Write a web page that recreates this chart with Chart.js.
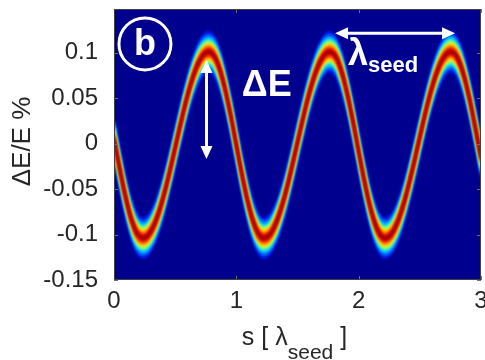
<!DOCTYPE html>
<html>
<head>
<meta charset="utf-8">
<script src="https://cdn.jsdelivr.net/npm/chart.js"></script>
<style>
  html, body { margin: 0; padding: 0; background: #fff; }
  #wrap { width: 485px; height: 360px; }
</style>
</head>
<body>
<div id="wrap"><canvas id="c"></canvas></div>
<script>
// s in units of lambda_seed
const sPos = [0, 0.05, 0.1, 0.15, 0.2, 0.25, 0.3, 0.35, 0.4, 0.45, 0.5, 0.55, 0.6, 0.65, 0.7, 0.75,
  0.8, 0.85, 0.9, 0.95, 1, 1.05, 1.1, 1.15, 1.2, 1.25, 1.3, 1.35, 1.4, 1.45, 1.5, 1.55, 1.6, 1.65,
  1.7, 1.75, 1.8, 1.85, 1.9, 1.95, 2, 2.05, 2.1, 2.15, 2.2, 2.25, 2.3, 2.35, 2.4, 2.45, 2.5, 2.55,
  2.6, 2.65, 2.7, 2.75, 2.8, 2.85, 2.9, 2.95, 3];

// centre of the energy band, dE/E in %
const bandCentre = [0.0057, -0.0297, -0.0617, -0.0865, -0.101, -0.1036, -0.0967, -0.0819, -0.0603,
  -0.0337, -0.0045, 0.025, 0.0524, 0.075, 0.0914, 0.0999, 0.0994, 0.0873, 0.0644, 0.0336, -0.0015,
  -0.0366, -0.0674, -0.0903, -0.1024, -0.1029, -0.0944, -0.078, -0.0554, -0.028, 0.0015, 0.0307,
  0.0573, 0.0789, 0.0937, 0.1006, 0.098, 0.0835, 0.0587, 0.0268, -0.0087, -0.0432, -0.0727, -0.0936,
  -0.1034, -0.1019, -0.0918, -0.074, -0.0501, -0.0223, 0.0074, 0.0364, 0.0621, 0.0825, 0.0958,
  0.101, 0.096, 0.0793, 0.0528, 0.0198, -0.0158];

// half width of each colour layer around the centre (outer -> inner)
const layerHalfWidth = [0.022, 0.0185, 0.015, 0.012, 0.0092, 0.0063, 0.0037, 0.0013];
const layerColour = ['#0018e8', '#0070ff', '#00d8ff', '#80ff80', '#ffe000', '#ff7000', '#ee1000', '#a00000'];

const xTicks = [0, 1, 2, 3];
const yTicks = [-0.15, -0.1, -0.05, 0, 0.05, 0.1];

const datasets = [];
layerHalfWidth.forEach((hw, i) => {
  const ord = layerHalfWidth.length - i;
  datasets.push({
    data: sPos.map((s, k) => ({ x: s, y: bandCentre[k] + hw })),
    borderColor: layerColour[i],
    backgroundColor: layerColour[i],
    borderWidth: 1.5,
    fill: '+1',
    order: ord
  });
  datasets.push({
    data: sPos.map((s, k) => ({ x: s, y: bandCentre[k] - hw })),
    borderColor: layerColour[i],
    borderWidth: 1.5,
    fill: false,
    order: ord
  });
});

function arrowHead(ctx, x, y, dx, dy, len, half) {
  // dx,dy = unit direction the head points to
  ctx.beginPath();
  ctx.moveTo(x, y);
  ctx.lineTo(x - dx * len - dy * half, y - dy * len + dx * half);
  ctx.lineTo(x - dx * len + dy * half, y - dy * len - dx * half);
  ctx.closePath();
  ctx.fill();
}

const decor = {
  id: 'decor',
  beforeDraw(chart) {
    const { ctx, chartArea: a } = chart;
    ctx.save();
    ctx.fillStyle = '#00008f';
    ctx.fillRect(a.left, a.top, a.right - a.left, a.bottom - a.top);
    ctx.restore();
  },
  beforeDatasetsDraw(chart) {
    chart.ctx.save();
    chart.ctx.filter = 'blur(1.2px)';
  },
  afterDatasetsDraw(chart) {
    const ctx = chart.ctx;
    ctx.restore();
    const a = chart.chartArea;
    const xs = chart.scales.x, ys = chart.scales.y;

    // inner tick marks
    ctx.save();
    ctx.strokeStyle = '#707070';
    ctx.lineWidth = 1;
    xTicks.forEach(v => {
      const px = Math.round(xs.getPixelForValue(v)) + 0.5;
      ctx.beginPath();
      ctx.moveTo(px, a.bottom); ctx.lineTo(px, a.bottom - 4);
      ctx.moveTo(px, a.top); ctx.lineTo(px, a.top + 4);
      ctx.stroke();
    });
    yTicks.forEach(v => {
      const py = Math.round(ys.getPixelForValue(v)) + 0.5;
      ctx.beginPath();
      ctx.moveTo(a.left, py); ctx.lineTo(a.left + 4, py);
      ctx.moveTo(a.right, py); ctx.lineTo(a.right - 4, py);
      ctx.stroke();
    });
    // box
    ctx.strokeStyle = '#404040';
    ctx.strokeRect(a.left + 0.5, a.top + 0.5, a.right - a.left - 1, a.bottom - a.top - 1);

    // annotations
    ctx.strokeStyle = '#fff';
    ctx.fillStyle = '#fff';
    ctx.lineWidth = 3;
    // circled b
    const cx = xs.getPixelForValue(0.253), cy = ys.getPixelForValue(0.1096);
    ctx.beginPath();
    ctx.arc(cx, cy, 26, 0, Math.PI * 2);
    ctx.stroke();
    ctx.font = 'bold 36px "Liberation Sans", Arial, sans-serif';
    ctx.textAlign = 'center';
    ctx.textBaseline = 'middle';
    ctx.fillText('b', cx, cy + 1);

    // dE arrow
    const ax = xs.getPixelForValue(0.756);
    const aTop = ys.getPixelForValue(0.0919), aBot = ys.getPixelForValue(-0.0169);
    ctx.beginPath();
    ctx.moveTo(ax, aTop + 10); ctx.lineTo(ax, aBot - 10);
    ctx.stroke();
    arrowHead(ctx, ax, aTop, 0, -1, 13, 6);
    arrowHead(ctx, ax, aBot, 0, 1, 13, 6);
    ctx.textAlign = 'left';
    ctx.textBaseline = 'alphabetic';
    ctx.font = 'bold 36px "Liberation Sans", Arial, sans-serif';
    ctx.fillText('ΔE', xs.getPixelForValue(1.045), ys.getPixelForValue(0.0522));

    // lambda arrow
    const ly = ys.getPixelForValue(0.1213);
    const lx1 = xs.getPixelForValue(1.807), lx2 = xs.getPixelForValue(2.788);
    ctx.beginPath();
    ctx.moveTo(lx1 + 10, ly); ctx.lineTo(lx2 - 10, ly);
    ctx.stroke();
    arrowHead(ctx, lx1, ly, -1, 0, 13, 6);
    arrowHead(ctx, lx2, ly, 1, 0, 13, 6);
    const lamX = xs.getPixelForValue(1.913);
    ctx.font = 'bold 36px "Liberation Sans", Arial, sans-serif';
    ctx.fillText('λ', lamX, ys.getPixelForValue(0.0866));
    const lw = ctx.measureText('λ').width;
    ctx.font = 'bold 22px "Liberation Sans", Arial, sans-serif';
    ctx.fillText('seed', lamX + lw, ys.getPixelForValue(0.0784));
    ctx.restore();
  },
  afterDraw(chart) {
    const { ctx, chartArea: a } = chart;
    ctx.save();
    ctx.fillStyle = '#262626';
    // y axis title
    ctx.translate(23, (a.top + a.bottom) / 2 - 3);
    ctx.rotate(-Math.PI / 2);
    ctx.font = '26px "Liberation Sans", Arial, sans-serif';
    ctx.textAlign = 'center';
    ctx.textBaseline = 'middle';
    ctx.fillText('ΔE/E %', 0, 0);
    ctx.restore();

    // x axis title with subscript
    ctx.save();
    ctx.fillStyle = '#262626';
    ctx.textBaseline = 'alphabetic';
    ctx.textAlign = 'left';
    const mainFont = '25px "Liberation Sans", Arial, sans-serif';
    const subFont = '21px "Liberation Sans", Arial, sans-serif';
    ctx.font = mainFont;
    const w1 = ctx.measureText('s [ λ').width;
    const w3 = ctx.measureText(' ]').width;
    ctx.font = subFont;
    const w2 = ctx.measureText('seed').width;
    let x = (a.left + a.right) / 2 - 3 - (w1 + w2 + w3) / 2;
    const base = 345;
    ctx.font = mainFont;
    ctx.fillText('s [ λ', x, base);
    x += w1;
    ctx.font = subFont;
    ctx.fillText('seed', x, base + 14);
    x += w2;
    ctx.font = mainFont;
    ctx.fillText(' ]', x, base);
    ctx.restore();
  }
};

new Chart(document.getElementById('c'), {
  type: 'line',
  data: { datasets: datasets },
  options: {
    responsive: true,
    maintainAspectRatio: false,
    animation: false,
    layout: { padding: { top: 9, right: 4, left: 0, bottom: 0 } },
    elements: { point: { radius: 0 }, line: { tension: 0.4 } },
    plugins: { legend: { display: false }, tooltip: { enabled: false } },
    scales: {
      x: {
        type: 'linear', min: 0, max: 3,
        grid: { display: false, drawTicks: false },
        border: { display: false },
        afterBuildTicks: s => { s.ticks = xTicks.map(v => ({ value: v })); },
        afterFit: s => { s.height = 80; s.paddingLeft = 0; s.paddingRight = 0; },
        ticks: {
          padding: 7, color: '#262626', maxRotation: 0,
          font: { family: '"Liberation Sans", Arial, sans-serif', size: 24 },
          callback: v => String(v)
        }
      },
      y: {
        type: 'linear', min: -0.15, max: 0.148,
        grid: { display: false, drawTicks: false },
        border: { display: false },
        afterBuildTicks: s => { s.ticks = yTicks.map(v => ({ value: v })); },
        afterFit: s => { s.width = 114; s.paddingTop = 0; s.paddingBottom = 0; },
        ticks: {
          padding: 16, color: '#262626',
          font: { family: '"Liberation Sans", Arial, sans-serif', size: 24 },
          callback: v => String(v)
        }
      }
    }
  },
  plugins: [decor]
});
</script>
</body>
</html>
